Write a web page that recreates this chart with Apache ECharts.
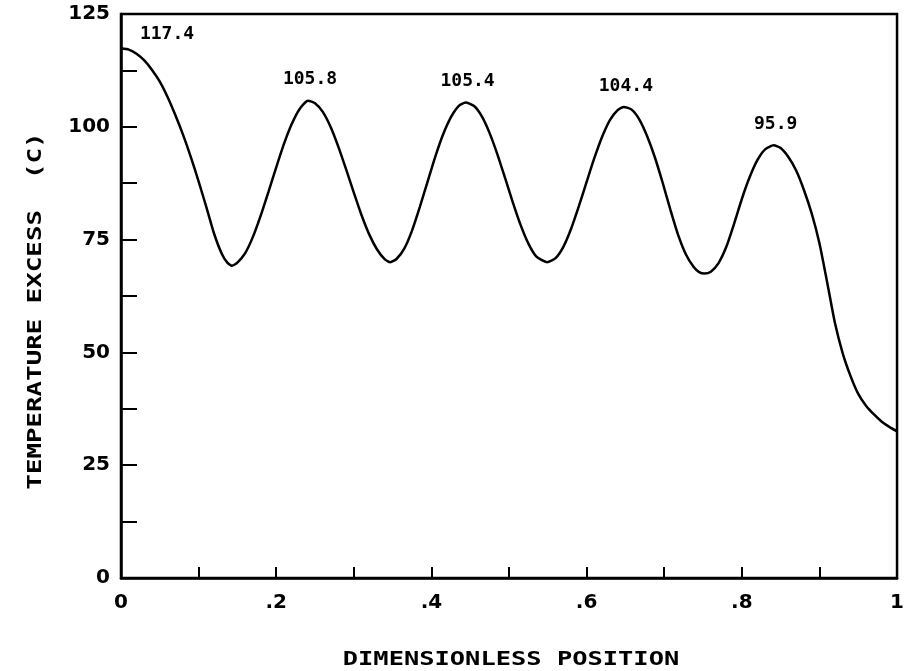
<!DOCTYPE html>
<html>
<head>
<meta charset="UTF-8">
<title>Temperature excess vs dimensionless position</title>
<script src="https://cdn.jsdelivr.net/npm/echarts@6/dist/echarts.min.js"></script>
<style>
    html, body { margin: 0; padding: 0; background: #fff; }
    #main { width: 907px; height: 671px; }
</style>
</head>
<body>
<div id="main"></div>
<script>
// position along the fin (0..1) and temperature excess (C)
var positions = [
    0.000, 0.010, 0.020, 0.030, 0.040, 0.050, 0.060, 0.070, 0.080, 0.090,
    0.100, 0.110, 0.120, 0.130, 0.137, 0.143,
    0.150, 0.160, 0.170, 0.180, 0.190, 0.200, 0.210, 0.220, 0.230, 0.241,
    0.250, 0.260, 0.270, 0.280, 0.290, 0.300, 0.310, 0.320, 0.330, 0.340, 0.347,
    0.355, 0.365, 0.375, 0.385, 0.395, 0.405, 0.415, 0.425, 0.435, 0.444,
    0.455, 0.465, 0.475, 0.485, 0.495, 0.505, 0.515, 0.525, 0.535, 0.549,
    0.560, 0.570, 0.580, 0.590, 0.600, 0.610, 0.620, 0.630, 0.640, 0.648,
    0.658, 0.668, 0.678, 0.688, 0.698, 0.708, 0.718, 0.728, 0.738, 0.745, 0.752,
    0.760, 0.770, 0.780, 0.790, 0.800, 0.810, 0.820, 0.830, 0.841,
    0.850, 0.860, 0.870, 0.880, 0.890, 0.900, 0.910, 0.920, 0.930, 0.940,
    0.950, 0.960, 0.970, 0.980, 0.990, 1.000
];
var temps = [
    117.4, 117.1, 116.2, 114.7, 112.6, 110.0, 106.6, 102.6, 98.2, 93.3,
    87.9, 82.2, 76.3, 71.8, 69.9, 69.2,
    69.9, 72.0, 75.6, 80.3, 85.6, 91.0, 96.2, 100.6, 103.9, 105.8,
    105.2, 103.3, 100.0, 95.6, 90.6, 85.4, 80.4, 76.1, 72.8, 70.6, 70.0,
    70.7, 73.0, 77.0, 82.2, 87.8, 93.4, 98.3, 102.1, 104.6, 105.4,
    104.6, 102.3, 98.6, 93.9, 88.6, 83.2, 78.2, 74.1, 71.3, 70.0,
    70.9, 73.4, 77.4, 82.4, 87.8, 93.1, 97.8, 101.5, 103.7, 104.4,
    103.8, 101.6, 97.9, 93.2, 87.6, 81.6, 76.0, 71.7, 68.9, 67.8, 67.5,
    67.9, 69.8, 73.4, 78.5, 84.0, 88.8, 92.6, 95.0, 95.9,
    95.3, 93.3, 90.3, 86.0, 80.8, 74.2, 65.5, 56.5, 49.8, 44.8,
    40.8, 38.2, 36.3, 34.7, 33.5, 32.5
];

// peak annotations
var peakX = [0.000, 0.241, 0.444, 0.648, 0.841];
var peakY = [117.4, 105.8, 105.4, 104.4, 95.9];
var peakText = ['117.4', '105.8', '105.4', '104.4', '95.9'];

var xTickLabels = { 0: '0', 2: '.2', 4: '.4', 6: '.6', 8: '.8', 10: '1' };

var curve = [];
for (var i = 0; i < positions.length; i++) {
    curve.push([positions[i], temps[i]]);
}
var peaks = [];
for (var j = 0; j < peakX.length; j++) {
    peaks.push({
        value: [peakX[j], peakY[j]],
        label: { color: '#000', offset: j === 0 ? [46, -14] : [2, -21] }
    });
}

var myChart = echarts.init(document.getElementById('main'));
var option = {
    backgroundColor: '#fff',
    animation: false,
    grid: {
        left: 121,
        right: 5,
        top: 14,
        bottom: 93,
        show: true,
        borderColor: '#000',
        borderWidth: 2.5,
        backgroundColor: '#fff'
    },
    xAxis: {
        type: 'value',
        min: 0,
        max: 1,
        interval: 0.1,
        axisLine: { lineStyle: { color: '#000', width: 2.5 } },
        axisTick: { inside: true, length: 11, lineStyle: { color: '#000', width: 2 } },
        splitLine: { show: false },
        axisLabel: {
            margin: 15,
            color: '#000',
            fontFamily: 'DejaVu Sans',
            fontWeight: 'bold',
            fontSize: 20,
            formatter: function (v) {
                var k = Math.round(v * 10);
                return xTickLabels[k] !== undefined ? xTickLabels[k] : '';
            }
        }
    },
    yAxis: {
        type: 'value',
        min: 0,
        max: 125,
        interval: 12.5,
        axisLine: { show: true, lineStyle: { color: '#000', width: 2.5 } },
        axisTick: { show: true, inside: true, length: 16, lineStyle: { color: '#000', width: 2 } },
        splitLine: { show: false },
        axisLabel: {
            margin: 11,
            color: '#000',
            fontFamily: 'DejaVu Sans',
            fontWeight: 'bold',
            fontSize: 20,
            formatter: function (v) {
                return v % 25 === 0 ? String(v) : '';
            }
        }
    },
    graphic: [
        {
            type: 'text',
            x: 511,
            y: 660,
            scaleX: 1.27,
            style: {
                text: 'DIMENSIONLESS POSITION',
                font: 'bold 20px "DejaVu Sans Mono"',
                fill: '#000',
                align: 'center',
                verticalAlign: 'middle',
                textAlign: 'center',
                textVerticalAlign: 'middle'
            }
        },
        {
            type: 'text',
            x: 36,
            y: 311,
            rotation: Math.PI / 2,
            scaleX: 1.29,
            style: {
                text: 'TEMPERATURE EXCESS  (C)',
                font: 'bold 20px "DejaVu Sans Mono"',
                fill: '#000',
                align: 'center',
                verticalAlign: 'middle',
                textAlign: 'center',
                textVerticalAlign: 'middle'
            }
        }
    ],
    series: [
        {
            type: 'line',
            data: curve,
            smooth: 0.2,
            symbol: 'none',
            lineStyle: { color: '#000', width: 2.5 }
        },
        {
            type: 'scatter',
            data: peaks,
            symbolSize: 0,
            silent: true,
            itemStyle: { color: '#000', opacity: 1 },
            label: {
                show: true,
                position: 'inside',
                color: '#000',
                textBorderWidth: 0,
                fontFamily: 'DejaVu Sans Mono',
                fontWeight: 'bold',
                fontSize: 18,
                formatter: function (p) { return peakText[p.dataIndex]; }
            }
        }
    ]
};
myChart.setOption(option);
</script>
</body>
</html>
